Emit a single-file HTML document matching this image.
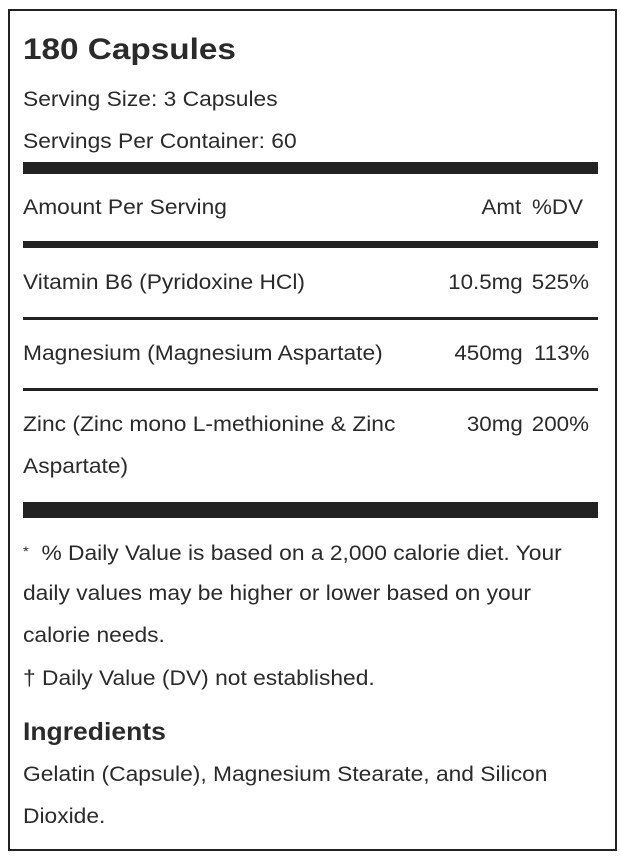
<!DOCTYPE html>
<html><head><meta charset="utf-8"><style>
body{margin:0;width:620px;height:860px;background:#fff;position:relative;font-family:"Liberation Sans",sans-serif;color:#2a2a2a;overflow:hidden}
.box{position:absolute;left:8px;top:9px;width:605px;height:838px;border:2px solid #222}
.t{position:absolute;left:23px;font-size:21.5px;line-height:30px;white-space:nowrap;transform:scaleX(1.06);transform-origin:left center}
.r{position:absolute;font-size:21.5px;line-height:30px;white-space:nowrap;text-align:right;transform:scaleX(1.04);transform-origin:right center}
.bar{position:absolute;left:23px;width:575px;background:#222}
</style></head><body>
<div class="box"></div>
<div class="t" style="top:33px;font-size:30px;font-weight:bold;line-height:34px;transform:scaleX(1.11)">180 Capsules</div>
<div class="t" style="top:84px">Serving Size: 3 Capsules</div>
<div class="t" style="top:126px">Servings Per Container: 60</div>
<div class="bar" style="top:162px;height:12px"></div>
<div class="t" style="top:192px">Amount Per Serving</div>
<div class="r" style="top:192px;right:99px">Amt</div>
<div class="r" style="top:192px;right:37px">%DV</div>
<div class="bar" style="top:241px;height:7px"></div>
<div class="t" style="top:267px">Vitamin B6 (Pyridoxine HCl)</div>
<div class="r" style="top:267px;right:97px">10.5mg</div>
<div class="r" style="top:267px;right:31px">525%</div>
<div class="bar" style="top:317px;height:3px"></div>
<div class="t" style="top:338px">Magnesium (Magnesium Aspartate)</div>
<div class="r" style="top:338px;right:97px">450mg</div>
<div class="r" style="top:338px;right:31px">113%</div>
<div class="bar" style="top:388px;height:3px"></div>
<div class="t" style="top:409px">Zinc (Zinc mono L-methionine &amp; Zinc</div>
<div class="t" style="top:451px">Aspartate)</div>
<div class="r" style="top:409px;right:97px">30mg</div>
<div class="r" style="top:409px;right:31px">200%</div>
<div class="bar" style="top:502px;height:16px"></div>
<div class="t" style="top:536px"><span style="font-size:14px;vertical-align:4px">*</span>&nbsp; % Daily Value is based on a 2,000 calorie diet. Your</div>
<div class="t" style="top:578px">daily values may be higher or lower based on your</div>
<div class="t" style="top:620px">calorie needs.</div>
<div class="t" style="top:663px">† Daily Value (DV) not established.</div>
<div class="t" style="top:717px;font-size:25px;font-weight:bold">Ingredients</div>
<div class="t" style="top:759px">Gelatin (Capsule), Magnesium Stearate, and Silicon</div>
<div class="t" style="top:801px">Dioxide.</div>
</body></html>
